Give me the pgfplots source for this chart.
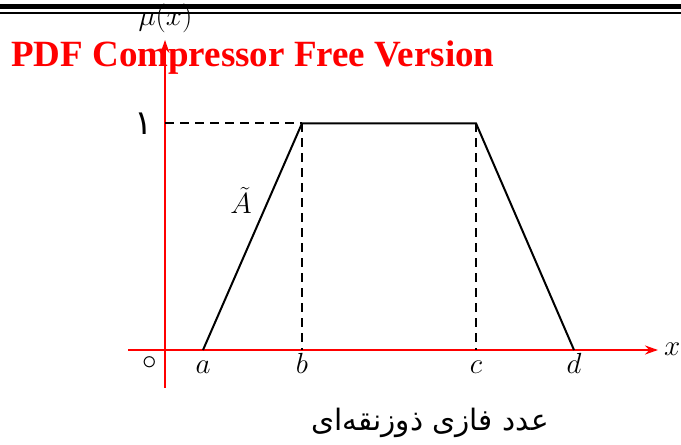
\documentclass[border=0pt]{standalone}
\usepackage{fontspec}
\usepackage{pgfplots}
\pgfplotsset{compat=1.18}
\usetikzlibrary{arrows.meta}
\TeXXeTstate=1
\newfontfamily\arabicfont[Script=Arabic]{DejaVu Sans}
\newfontfamily\wmfont{Liberation Serif}
% math letters set at the largest design size, then enlarged
\tikzset{mathlbl/.style={inner sep=0pt, font=\fontsize{24.88}{28}\selectfont, scale=1.17}}

\begin{document}
\begin{tikzpicture}[x=1pt,y=1pt]
\useasboundingbox (0,0) rectangle (681,445);

% trapezoidal membership function: a, b, c, d on the x axis
\begin{axis}[
  at={(165pt,95pt)}, anchor=origin,
  scale only axis, width=530pt, height=348pt,
  xmin=-37, xmax=493, ymin=-0.1676, ymax=1.3675,
  axis lines=middle, clip=false,
  axis line style={red, line width=2.3pt},
  every inner x axis line/.append style={-{Stealth[length=13pt,width=9pt]}},
  every inner y axis line/.append style={-{Stealth[length=13pt,width=9pt]}},
  xtick={38,137,311,409},
  xticklabels={$a$,$b$,$c$,$d$},
  ytick=\empty,
  major tick length=0pt,
  xticklabel style={mathlbl, anchor=base, yshift=-20.5pt},
]
  \addplot[black, line width=2pt] coordinates {(38,0) (137,1) (311,1) (409,0)};
  \addplot[black, line width=1.9pt, dash pattern=on 9pt off 6pt] coordinates {(0,1) (137,1)};
  \addplot[black, line width=1.9pt, dash pattern=on 9pt off 6pt] coordinates {(137,1) (137,0)};
  \addplot[black, line width=1.9pt, dash pattern=on 9pt off 6pt] coordinates {(311,1) (311,0)};

  \node[anchor=east, inner sep=0pt, font=\fontsize{34}{36}\arabicfont] at (axis cs:0,1) [xshift=-12pt] {۱};
  \node[mathlbl] at (axis cs:0,0) [xshift=-13pt, yshift=-11pt] {$\circ$};
  \node[mathlbl, anchor=base west] at (axis cs:493,0) [xshift=5pt, yshift=-5pt] {$x$};
  \node[mathlbl, anchor=base] at (axis cs:76,0.6) {$\tilde{A}$};
\end{axis}

% axis title above the membership axis
\node[mathlbl, anchor=base] at (165.5,419) {$\mu(x)$};

% page rules at the top
\fill[black] (0,436) rectangle (681,441);
\fill[black] (0,430.8) rectangle (681,432.6);

% caption
\node[inner sep=0pt, font=\fontsize{29.5}{32}\arabicfont] at (430,22) {\beginR عدد فازی ذوزنقه‌ای\endR};

% watermark
\node[anchor=base west, inner sep=0pt, text=red, font=\fontsize{37}{40}\wmfont\bfseries] at (11,378) {PDF Compressor Free Version};
\end{tikzpicture}
\end{document}
